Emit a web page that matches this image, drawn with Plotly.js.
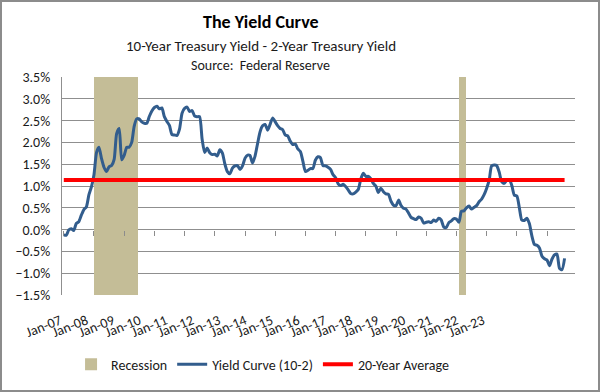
<!DOCTYPE html>
<html>
<head>
<meta charset="utf-8">
<script src="https://cdn.plot.ly/plotly-3.0.1.min.js"></script>
<style>
html,body{margin:0;padding:0;background:#fff;}
#wrap{position:relative;width:600px;height:392px;}
#chart{width:600px;height:392px;}
#frame{position:absolute;left:0;top:0;width:600px;height:392px;box-sizing:border-box;border:2px solid #8c8c8c;pointer-events:none;}
</style>
</head>
<body>
<div id="wrap"><div id="chart"></div><div id="frame"></div></div>
<script>
// ---- data ----
const startYear = 2007; // first monthly observation: Jan 2007
const yieldCurve = [
  -0.12,-0.13,-0.01,0.02,-0.02,0.14,0.18,0.33,0.46,0.52,0.80,0.98,   // 2007
  1.26,1.77,1.89,1.63,1.43,1.33,1.44,1.47,1.61,2.20,2.32,1.60,       // 2008
  1.71,1.89,1.89,2.00,2.37,2.54,2.54,2.47,2.44,2.44,2.60,2.72,       // 2009
  2.80,2.83,2.77,2.79,2.59,2.48,2.39,2.18,2.17,2.16,2.31,2.67,       // 2010
  2.78,2.81,2.71,2.73,2.61,2.59,2.59,2.07,1.77,1.87,1.76,1.72,       // 2011
  1.73,1.69,1.83,1.76,1.51,1.33,1.28,1.41,1.46,1.47,1.38,1.46,       // 2012
  1.64,1.71,1.70,1.53,1.68,1.97,2.24,2.38,2.41,2.28,2.42,2.56,       // 2013
  2.47,2.38,2.32,2.29,2.17,2.15,2.03,1.95,1.96,1.85,1.79,1.57,       // 2014
  1.33,1.36,1.40,1.40,1.59,1.67,1.65,1.47,1.46,1.43,1.38,1.26,       // 2015
  1.19,1.05,1.01,1.04,0.99,0.91,0.83,0.82,0.86,0.92,1.16,1.29,       // 2016
  1.22,1.22,1.17,1.06,1.00,0.85,0.95,0.87,0.82,0.81,0.65,0.56,       // 2017
  0.55,0.68,0.56,0.49,0.47,0.38,0.28,0.25,0.23,0.29,0.26,0.15,       // 2018
  0.17,0.18,0.16,0.22,0.19,0.26,0.22,0.06,0.05,0.16,0.20,0.25,       // 2019
  0.24,0.17,0.42,0.43,0.50,0.54,0.47,0.51,0.55,0.64,0.70,0.80,       // 2020
  0.95,1.14,1.46,1.48,1.47,1.32,1.10,1.06,1.13,1.15,1.01,0.79,       // 2021
  0.77,0.49,0.22,0.21,0.26,0.14,-0.14,-0.34,-0.36,-0.42,-0.61,-0.67, // 2022
  -0.70,-0.83,-0.68,-0.58,-0.56,-0.89,-0.92,-0.66                    // 2023
];
const averageValue = 1.14;
const recessionStart = ['2008-01-01','2020-02-01'];
const recessionEnd   = ['2009-06-15','2020-04-20'];
const tickLabels = ['Jan-07','Jan-08','Jan-09','Jan-10','Jan-11','Jan-12','Jan-13','Jan-14','Jan-15','Jan-16','Jan-17','Jan-18','Jan-19','Jan-20','Jan-21','Jan-22','Jan-23'];
const yRange = [-1.5, 3.5];

// ---- build ----
const dates = yieldCurve.map((_, i) => {
  const y = startYear + Math.floor(i / 12);
  const m = (i % 12) + 1;
  return y + '-' + String(m).padStart(2, '0') + '-01';
});
const recWidths = recessionStart.map((s, i) => new Date(recessionEnd[i]) - new Date(s));
const avgX = [dates[0], dates[dates.length - 1]];
const avgY = avgX.map(() => averageValue);
const tickIdx = tickLabels.map((_, i) => i);

const FONT = 'Carlito, Calibri, Lato, sans-serif';
const traces = [
  {type:'bar', name:'Recession', x:recessionStart, width:recWidths, offset:0,
   y:recessionStart.map(() => yRange[1] - yRange[0]), base:yRange[0],
   marker:{color:'#c4bd97', line:{width:0}}, xaxis:'x', yaxis:'y'},
  {type:'scatter', mode:'lines', name:'Yield Curve (10-2)', x:dates, y:yieldCurve,
   line:{color:'#325d8d', width:3, shape:'spline', smoothing:0.6}, xaxis:'x', yaxis:'y'},
  {type:'scatter', mode:'lines', name:'20-Year Average', x:avgX, y:avgY,
   line:{color:'#ff0000', width:4}, xaxis:'x', yaxis:'y'},
  {type:'scatter', mode:'lines', x:[], y:[], showlegend:false, xaxis:'x2', yaxis:'y2', hoverinfo:'skip'}
];

const layout = {
  width:600, height:392,
  margin:{l:10, r:25, t:77, b:97, pad:0},
  paper_bgcolor:'#ffffff', plot_bgcolor:'rgba(0,0,0,0)',
  font:{family:FONT, size:13, color:'#1a1a1a'},
  showlegend:true, hovermode:false, bargap:0,
  xaxis:{type:'date', range:['2006-12-10','2023-12-05'], domain:[0.092, 1],
    anchor:'free', position:0.3, showgrid:false, zeroline:false, showline:false,
    ticks:'outside', ticklen:5, tickwidth:1, tickcolor:'#8c8c8c',
    tick0:'2008-01-01', dtick:'M12', showticklabels:false},
  yaxis:{anchor:'x', range:yRange, dtick:0.5, tick0:0, tickformat:'.1f', ticksuffix:'%',
    showgrid:true, gridcolor:'#8f8f8f', gridwidth:1, zeroline:false,
    showline:true, linecolor:'#8f8f8f', linewidth:1, ticks:'', ticklabelstandoff:8,
    tickfont:{family:FONT, size:14, color:'#1a1a1a'}},
  xaxis2:{domain:[0, 1], anchor:'y2', range:[-1.89, 19.48], tickvals:tickIdx, ticktext:tickLabels,
    tickangle:-22, showgrid:false, zeroline:false, showline:false, ticks:'', ticklabelstandoff:14,
    tickfont:{family:FONT, size:14, color:'#1a1a1a'}},
  yaxis2:{domain:[0, 1], anchor:'x2', range:[0, 1], visible:false, showgrid:false},
  legend:{orientation:'h', x:0.447, xanchor:'center', y:-0.32, yanchor:'middle',
    font:{family:FONT, size:14, color:'#1a1a1a'}, traceorder:'normal', itemwidth:30},
  annotations:[
    {text:'<b>The Yield Curve</b>', xref:'paper', yref:'paper', x:0.444, y:1.252, xanchor:'center', yanchor:'middle',
     showarrow:false, font:{family:FONT, size:18, color:'#000'}},
    {text:'10-Year Treasury Yield - 2-Year Treasury Yield', xref:'paper', yref:'paper', x:0.444, y:1.142, xanchor:'center', yanchor:'middle',
     showarrow:false, font:{family:FONT, size:15, color:'#1a1a1a'}},
    {text:'Source:  Federal Reserve', xref:'paper', yref:'paper', x:0.444, y:1.055, xanchor:'center', yanchor:'middle',
     showarrow:false, font:{family:FONT, size:14, color:'#1a1a1a'}}
  ]
};
Plotly.newPlot('chart', traces, layout, {displayModeBar:false, staticPlot:true});
</script>
</body>
</html>
